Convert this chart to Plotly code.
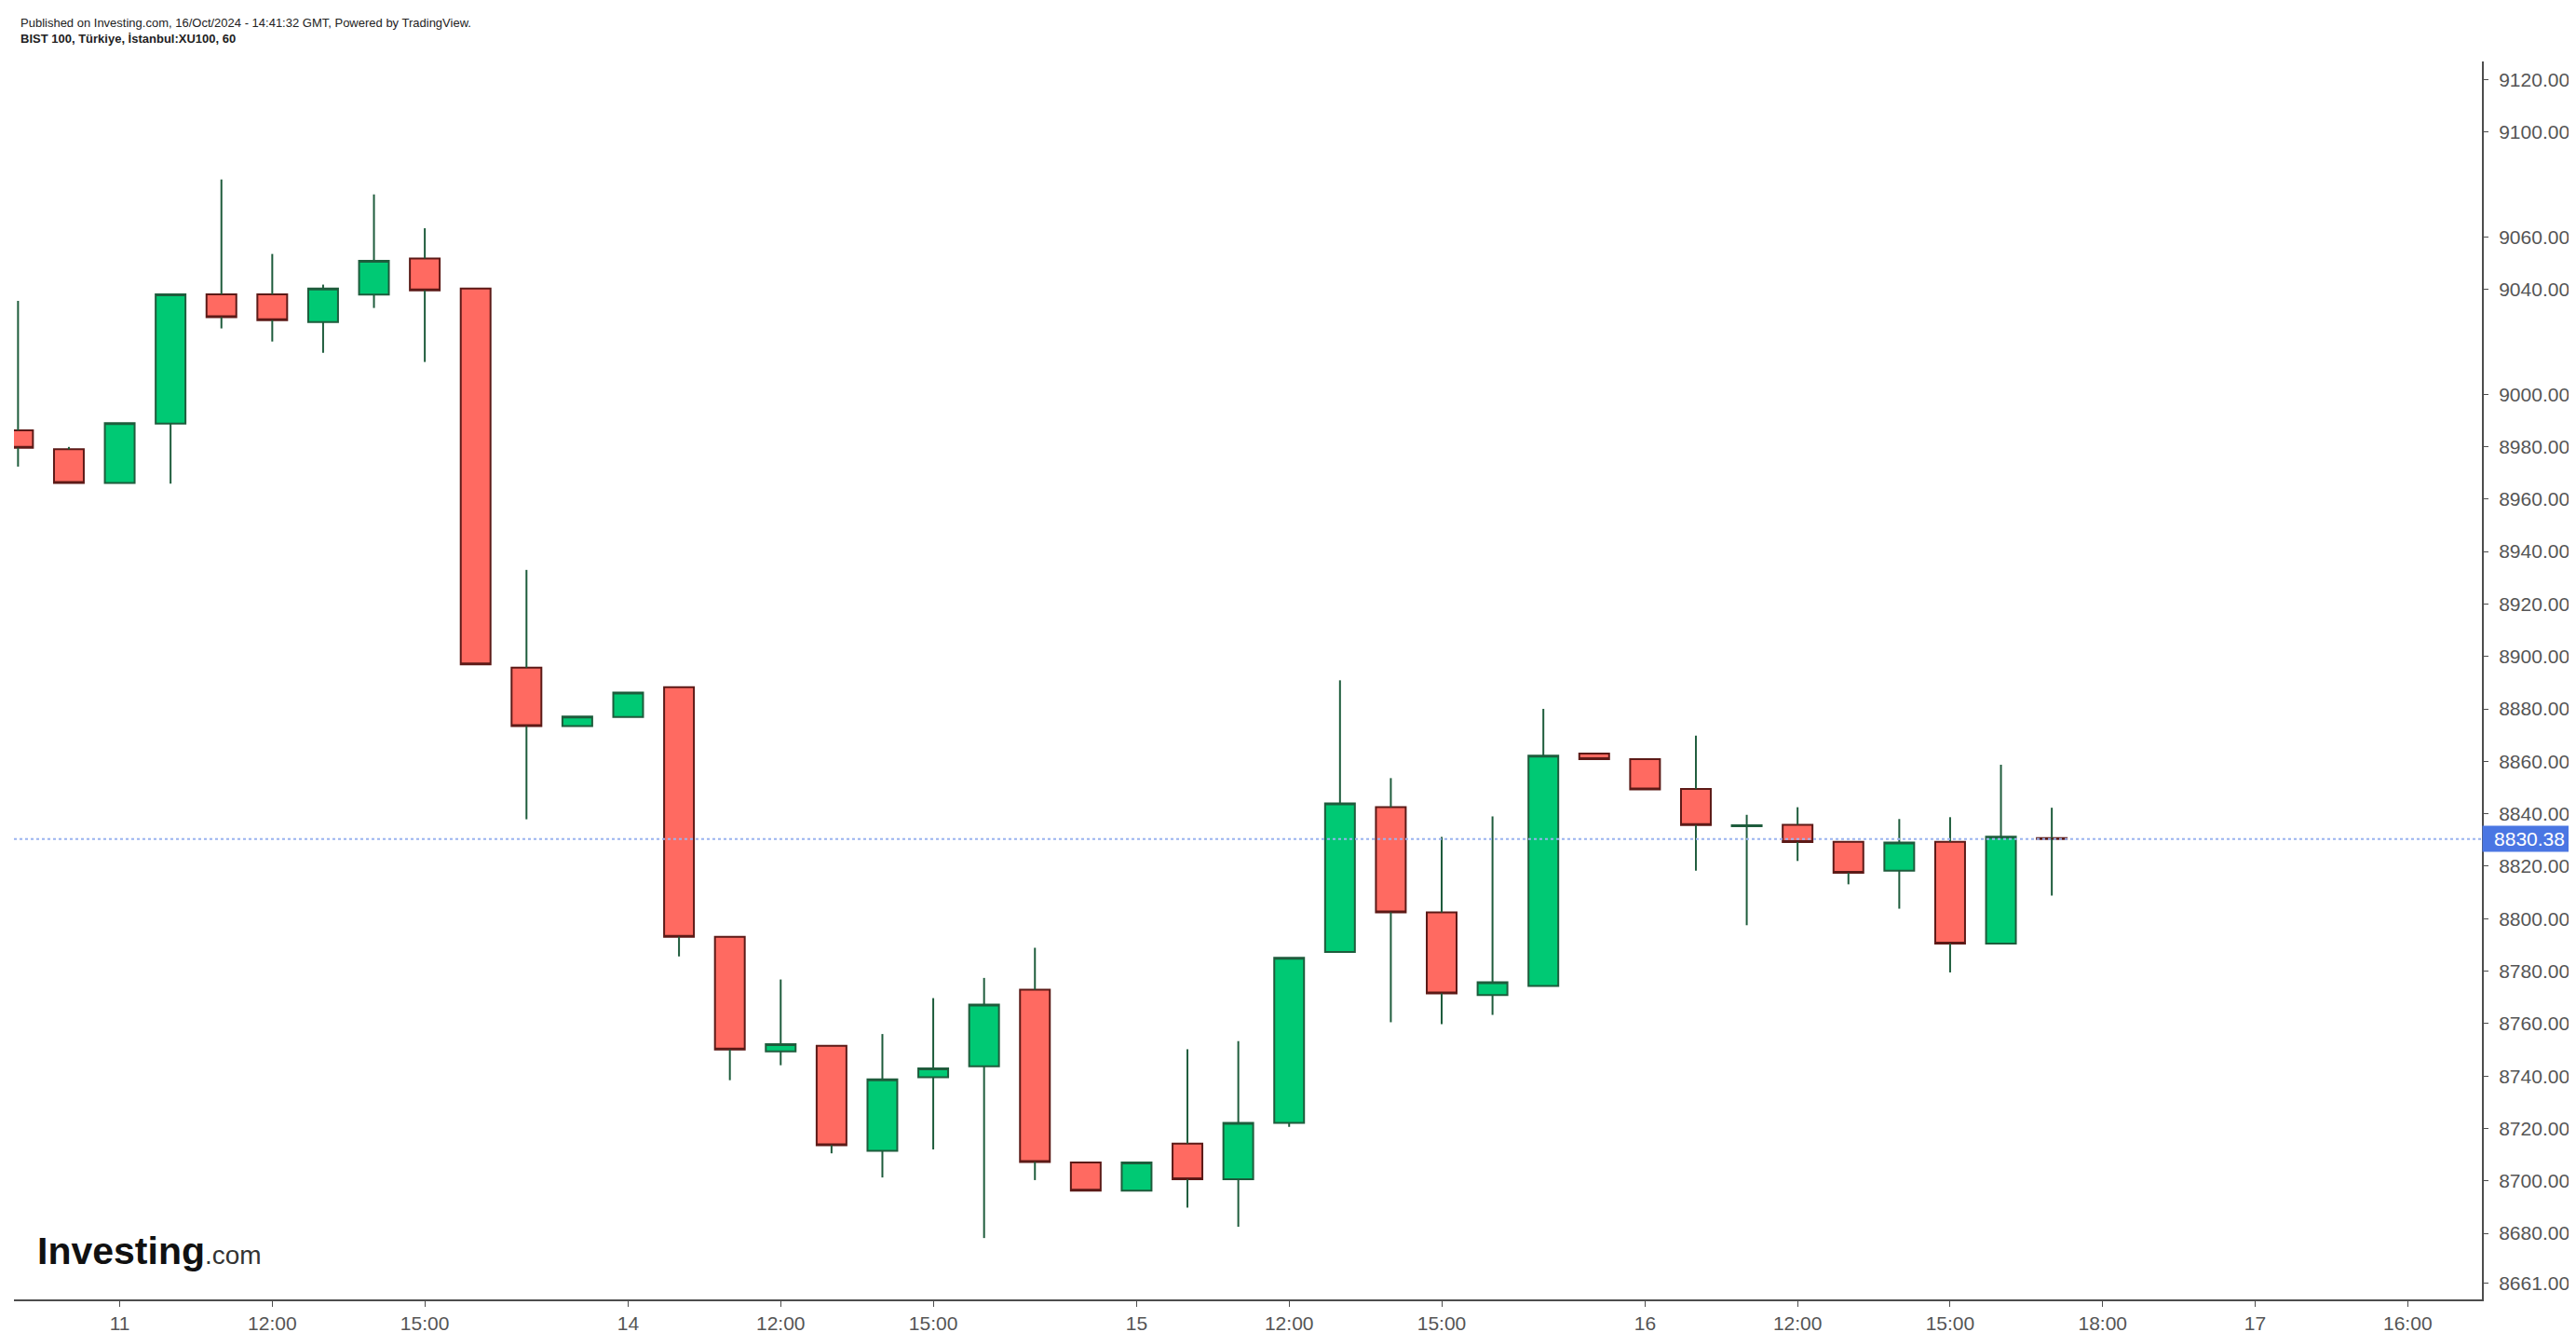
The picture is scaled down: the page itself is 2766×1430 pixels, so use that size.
import plotly.graph_objects as go

# ---- data (hourly bars, BIST 100) ----
times = [
    "10 Oct 17:00", "10 Oct 18:00",
    "11 Oct 09:00", "11 Oct 10:00", "11 Oct 11:00", "11 Oct 12:00", "11 Oct 13:00",
    "11 Oct 14:00", "11 Oct 15:00", "11 Oct 16:00", "11 Oct 17:00", "11 Oct 18:00",
    "14 Oct 09:00", "14 Oct 10:00", "14 Oct 11:00", "14 Oct 12:00", "14 Oct 13:00",
    "14 Oct 14:00", "14 Oct 15:00", "14 Oct 16:00", "14 Oct 17:00", "14 Oct 18:00",
    "15 Oct 09:00", "15 Oct 10:00", "15 Oct 11:00", "15 Oct 12:00", "15 Oct 13:00",
    "15 Oct 14:00", "15 Oct 15:00", "15 Oct 16:00", "15 Oct 17:00", "15 Oct 18:00",
    "16 Oct 09:00", "16 Oct 10:00", "16 Oct 11:00", "16 Oct 12:00", "16 Oct 13:00",
    "16 Oct 14:00", "16 Oct 15:00", "16 Oct 16:00", "16 Oct 17:00",
]
opens = [8986.2, 8979.0, 8966.2, 8988.8, 9038.1, 9038.1, 9027.5, 9038.0, 9051.8, 9040.3,
         8895.7, 8873.4, 8876.9, 8888.3, 8793.1, 8749.4, 8751.5, 8711.5, 8739.5, 8743.7,
         8772.9, 8707.0, 8696.3, 8714.2, 8700.6, 8722.1, 8787.3, 8842.5, 8802.4, 8770.9,
         8774.3, 8863.0, 8860.8, 8849.5, 8835.3, 8835.8, 8829.3, 8818.3, 8829.3, 8790.5,
         8830.7]
highs = [9035.6, 8979.9, 8989.0, 9038.1, 9081.9, 9053.5, 9041.8, 9076.2, 9063.3, 9040.3,
         8933.0, 8877.1, 8886.2, 8888.3, 8793.1, 8776.8, 8751.5, 8756.0, 8769.7, 8777.4,
         8788.9, 8707.0, 8707.0, 8750.2, 8753.3, 8785.1, 8890.9, 8853.6, 8831.2, 8839.0,
         8880.0, 8863.0, 8860.8, 8869.8, 8839.6, 8842.5, 8829.3, 8838.0, 8838.7, 8858.7,
         8842.3]
lows = [8972.4, 8966.2, 8966.2, 8965.9, 9025.1, 9020.1, 9015.8, 9032.9, 9012.3, 8897.0,
        8837.9, 8873.4, 8876.9, 8785.6, 8738.4, 8744.1, 8710.5, 8701.3, 8712.0, 8678.2,
        8700.3, 8696.3, 8696.3, 8689.8, 8682.5, 8720.6, 8787.3, 8760.5, 8759.8, 8763.3,
        8774.3, 8860.8, 8849.3, 8818.3, 8797.5, 8822.0, 8813.1, 8803.8, 8779.5, 8790.5,
        8808.8]
closes = [8979.6, 8966.2, 8989.0, 9038.1, 9029.4, 9028.2, 9040.3, 9050.9, 9039.6, 8897.0,
          8873.4, 8877.1, 8886.2, 8793.1, 8750.1, 8752.1, 8713.6, 8738.7, 8742.9, 8767.2,
          8707.2, 8696.3, 8707.0, 8700.6, 8722.1, 8785.1, 8844.0, 8802.4, 8771.5, 8775.8,
          8862.2, 8860.8, 8849.3, 8835.7, 8835.6, 8829.2, 8817.5, 8829.0, 8790.5, 8831.3,
          8830.38]

# time-axis labels (bar index -> label)
tick_positions = [2, 5, 8, 12, 15, 18, 22, 25, 28, 32, 35, 38, 41, 44, 47]
tick_labels = ["11", "12:00", "15:00", "14", "12:00", "15:00", "15", "12:00", "15:00",
               "16", "12:00", "15:00", "18:00", "17", "16:00"]
price_ticks = [9120, 9100, 9060, 9040, 9000, 8980, 8960, 8940, 8920, 8900, 8880, 8860,
               8840, 8820, 8800, 8780, 8760, 8740, 8720, 8700, 8680, 8661]

title_line1 = "Published on Investing.com, 16/Oct/2024 - 14:41:32 GMT, Powered by TradingView."
title_line2 = "BIST 100, Türkiye, İstanbul:XU100, 60"

# ---- styling ----
FONT = "Liberation Sans, Arial, sans-serif"
GREEN = "#00c974"
RED = "#ff6a61"
GREEN_EDGE = "#1e5c3c"
RED_EDGE = "#5c1a17"
WICK = "#1e5c3c"
AXIS = "#4d4d4d"
TXT = "#555555"

x = list(range(len(times)))
body_top = [max(o, c) for o, c in zip(opens, closes)]
body_bot = [min(o, c) for o, c in zip(opens, closes)]

# wick segments (drawn outside the bodies)
wx, wy = [], []
for i in x:
    if highs[i] > body_top[i]:
        wx += [i, i, None]
        wy += [body_top[i], highs[i], None]
    if lows[i] < body_bot[i]:
        wx += [i, i, None]
        wy += [body_bot[i], lows[i], None]

fig = go.Figure()
fig.add_trace(go.Scatter(x=wx, y=wy, mode="lines",
                         line=dict(color=WICK, width=2),
                         hoverinfo="skip", showlegend=False))
fig.add_trace(go.Candlestick(
    x=x, open=opens, high=body_top, low=body_bot, close=closes,
    text=times,
    increasing=dict(fillcolor=GREEN, line=dict(color=GREEN_EDGE, width=2)),
    decreasing=dict(fillcolor=RED, line=dict(color=RED_EDGE, width=2)),
    whiskerwidth=0, showlegend=False))

last = closes[-1]
fig.add_shape(type="line", xref="paper", x0=0, x1=1, yref="y", y0=last, y1=last,
              line=dict(color="#9ab3f0", width=2, dash="dot"))
fig.add_annotation(xref="paper", x=1, xanchor="left", yref="y", y=last, yanchor="middle",
                   text=f"{last:.2f}", showarrow=False, bgcolor="#4a76e3",
                   font=dict(family=FONT, size=21, color="white"),
                   width=100, height=27, borderpad=0, align="center")

fig.add_annotation(xref="paper", yref="paper", x=0.002, y=1.0316, xanchor="left",
                   yanchor="middle", text=title_line1, showarrow=False,
                   font=dict(family=FONT, size=13, color="#222222"))
fig.add_annotation(xref="paper", yref="paper", x=0.002, y=1.0188, xanchor="left",
                   yanchor="middle", text="<b>" + title_line2 + "</b>", showarrow=False,
                   font=dict(family=FONT, size=13, color="#222222"))
fig.add_annotation(xref="paper", yref="paper", x=0.0085, y=0.039, xanchor="left",
                   yanchor="middle",
                   text="<b>Investing</b><span style='font-size:28px;color:#333333'>.com</span>",
                   showarrow=False,
                   font=dict(family=FONT, size=41, color="#111111"))

fig.update_layout(
    width=2766, height=1430,
    margin=dict(l=7, r=109, t=58, b=43),
    paper_bgcolor="white", plot_bgcolor="white",
    boxgap=0.414, boxgroupgap=0,
    showlegend=False,
    font=dict(family=FONT, color=TXT),
    xaxis=dict(range=[-0.08, 48.46], rangeslider=dict(visible=False),
               tickmode="array", tickvals=tick_positions, ticktext=tick_labels,
               showgrid=False, zeroline=False, showline=True, linecolor=AXIS, linewidth=2,
               ticks="outside", ticklen=6, tickwidth=1, tickcolor=AXIS,
               tickfont=dict(family=FONT, size=21, color=TXT)),
    yaxis=dict(side="right", range=[8654.8, 9126.9],
               tickmode="array", tickvals=price_ticks,
               ticktext=[f"{v:.2f}" for v in price_ticks],
               showgrid=False, zeroline=False, showline=True, linecolor=AXIS, linewidth=2,
               ticks="outside", ticklen=5, tickwidth=1, tickcolor=AXIS,
               ticklabelstandoff=7,
               tickfont=dict(family=FONT, size=21, color=TXT)),
)

fig.write_html("out.html")
